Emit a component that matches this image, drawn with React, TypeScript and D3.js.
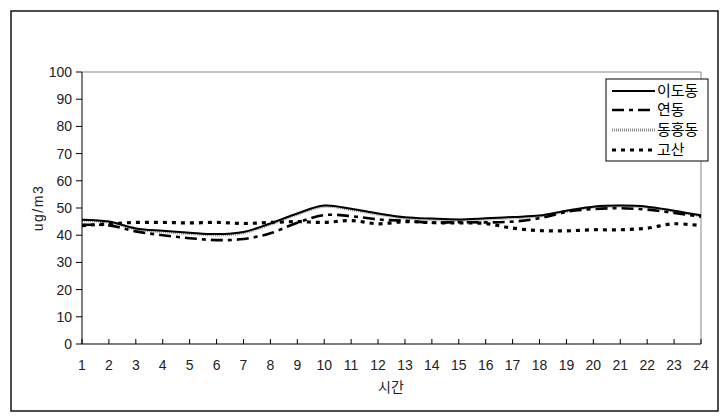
import React from "react";
import * as d3 from "d3";

const hours = Array.from({ length: 24 }, (_, i) => i + 1);
const yTicks = [0, 10, 20, 30, 40, 50, 60, 70, 80, 90, 100];
const idodong = [45.7, 45, 42.5, 41.6, 40.9, 40.4, 41.2, 44.3, 48, 50.9, 49.7, 48, 46.6, 46.1, 45.8, 46.2, 46.7, 47.2, 49, 50.5, 50.9, 50.5, 49, 47.3];
const yeondong = [43.8, 43.6, 41.4, 40, 38.9, 38.2, 38.6, 40.7, 44.6, 47.4, 47, 45.8, 45.3, 44.6, 44.8, 44.7, 45, 46.2, 48.6, 49.6, 49.9, 49.4, 48.2, 46.8];
const donghongdong = [45.4, 44.8, 42.3, 41.3, 40.6, 40.1, 40.9, 44, 47.7, 50.6, 49.4, 47.7, 46.3, 45.8, 45.5, 45.9, 46.4, 47, 48.8, 50.3, 50.7, 50.3, 48.8, 47.1];
const gosan = [43.5, 44.2, 44.7, 44.7, 44.5, 44.7, 44.3, 44.7, 45, 44.7, 45.4, 44.2, 45, 44.6, 44.5, 44.3, 42.6, 41.7, 41.6, 42, 42, 42.6, 44.2, 43.5];
const seriesNames = ["이도동", "연동", "동홍동", "고산"];

const FONT = "'Liberation Sans', Arial, 'Noto Sans CJK KR', sans-serif";
const KFONT = "'Noto Sans CJK KR', 'Liberation Sans', sans-serif";

export default function App() {
  const left = 82, right = 701, top = 72, bottom = 344;
  const x = d3.scaleLinear().domain([1, 24]).range([left, right]);
  const y = d3.scaleLinear().domain([0, 100]).range([bottom, top]);
  const line = d3
    .line<number>()
    .x((_, i) => x(hours[i]))
    .y((d) => y(d))
    .curve(d3.curveCatmullRom.alpha(0.5));

  const styles: Record<string, { stroke: string; width: number; dash?: string }> = {
    이도동: { stroke: "#000", width: 2 },
    연동: { stroke: "#000", width: 2.6, dash: "12,5,4,5" },
    동홍동: { stroke: "#8a8a8a", width: 3, dash: "1,1" },
    고산: { stroke: "#000", width: 3.2, dash: "4,5" },
  };
  const data: Record<string, number[]> = {
    이도동: idodong,
    연동: yeondong,
    동홍동: donghongdong,
    고산: gosan,
  };
  const drawOrder = ["동홍동", "고산", "연동", "이도동"];

  const legendX = 606, legendY = 79, legendW = 102, legendH = 82;
  const legendRows = [91, 110, 130, 150];

  return (
    <svg
      width={727}
      height={418}
      style={{ position: "absolute", left: 0, top: 0, background: "#fff" }}
    >
      <rect x={0} y={0} width={727} height={418} fill="#fff" />
      <rect x={11} y={11} width={707} height={400} fill="none" stroke="#000" strokeWidth={1.4} />

      {/* plot border top/right gray */}
      <line x1={left} x2={right} y1={top} y2={top} stroke="#888" strokeWidth={1} />
      <line x1={right} x2={right} y1={top} y2={bottom} stroke="#888" strokeWidth={1} />

      {/* series */}
      {drawOrder.map((name) => (
        <path
          key={name}
          d={line(data[name]) || ""}
          fill="none"
          stroke={styles[name].stroke}
          strokeWidth={styles[name].width}
          strokeDasharray={styles[name].dash}
        />
      ))}

      {/* axes */}
      <line x1={left} x2={left} y1={top} y2={bottom} stroke="#000" strokeWidth={1} />
      <line x1={left} x2={right} y1={bottom} y2={bottom} stroke="#000" strokeWidth={1} />
      {yTicks.map((t) => (
        <g key={t}>
          <line x1={left - 6} x2={left} y1={y(t)} y2={y(t)} stroke="#000" />
          <text
            x={72}
            y={y(t)}
            dy="0.35em"
            textAnchor="end"
            fontFamily={FONT}
            fontSize={14}
            fill="#222"
          >
            {t}
          </text>
        </g>
      ))}
      {hours.map((h) => (
        <g key={h}>
          <line x1={x(h)} x2={x(h)} y1={bottom} y2={bottom - 5} stroke="#000" />
          <text
            x={x(h)}
            y={365}
            dy="0.35em"
            textAnchor="middle"
            fontFamily={FONT}
            fontSize={14}
            fill="#222"
          >
            {h}
          </text>
        </g>
      ))}
      <text
        x={391}
        y={387}
        dy="0.35em"
        textAnchor="middle"
        fontFamily={KFONT}
        fontSize={14}
        fill="#222"
      >
        시간
      </text>
      <text
        transform={`translate(38,${208}) rotate(-90)`}
        dy="0.35em"
        textAnchor="middle"
        fontFamily={FONT}
        fontSize={14}
        letterSpacing={1.5}
        fill="#222"
      >
        ug/m3
      </text>

      {/* legend */}
      <rect x={legendX} y={legendY} width={legendW} height={legendH} fill="#fff" stroke="#000" strokeWidth={1} />
      {seriesNames.map((name, i) => (
        <g key={name}>
          <line
            x1={612}
            x2={655}
            y1={legendRows[i]}
            y2={legendRows[i]}
            stroke={styles[name].stroke}
            strokeWidth={styles[name].width}
            strokeDasharray={styles[name].dash}
          />
          <text
            x={657}
            y={legendRows[i]}
            dy="0.36em"
            fontFamily={KFONT}
            fontSize={15}
            fill="#000"
          >
            {name}
          </text>
        </g>
      ))}
    </svg>
  );
}
